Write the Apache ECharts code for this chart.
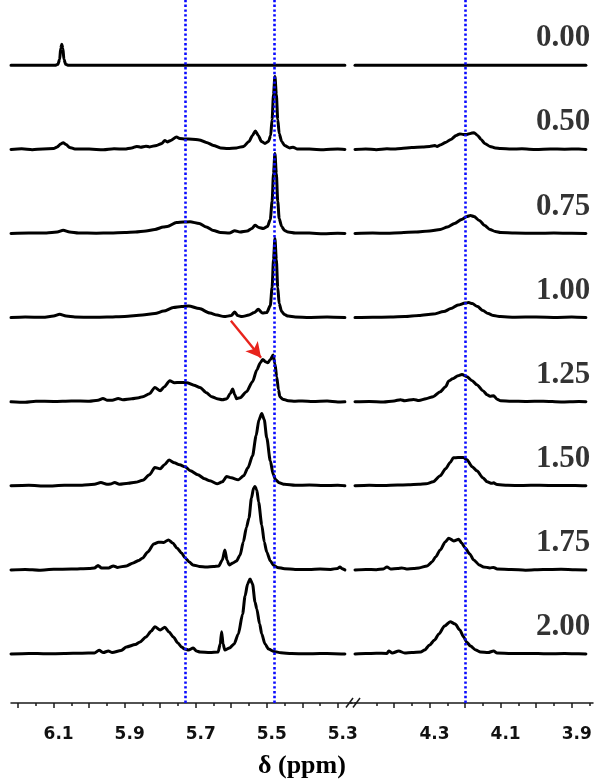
<!DOCTYPE html>
<html>
<head>
<meta charset="utf-8">
<script src="https://cdn.jsdelivr.net/npm/echarts@6/dist/echarts.min.js"></script>
<style>
  html, body { margin: 0; padding: 0; background: #fff; }
  #nmr { width: 595px; height: 781px; }
</style>
</head>
<body>
<div id="nmr"></div>
<script>
// ratio labels, top to bottom
const rowLabels = ['0.00', '0.50', '0.75', '1.00', '1.25', '1.50', '1.75', '2.00'];

// axis segments (ppm) and tick values
const leftRange = [5.26, 6.22];
const rightRange = [3.84, 4.51];
const leftMajor = [6.2, 6.1, 6.0, 5.9, 5.8, 5.7, 5.6, 5.5, 5.4, 5.3];
const leftMinor = [6.15, 6.05, 5.95, 5.85, 5.75, 5.65, 5.55, 5.45, 5.35];
const leftLabels = [6.1, 5.9, 5.7, 5.5, 5.3];
const rightMajor = [4.4, 4.3, 4.2, 4.1, 4.0, 3.9];
const rightMinor = [4.45, 4.35, 4.25, 4.15, 4.05, 3.95, 3.85];
const rightLabels = [4.3, 4.1, 3.9];

// dotted guide lines (ppm)
const guidesLeft = [5.726, 5.484];
const guidesRight = [4.20];

// spectra: [ppm, intensity]
const l000 = [[6.22, 0], [6.15, 0], [6.096, 0], [6.088, 1], [6.083, 6], [6.080, 17], [6.077, 21], [6.074, 17], [6.071, 6], [6.066, 1], [6.058, 0], [5.28, 0]];
const r000 = [[4.51, 0], [3.86, 0]];

const l050 = [[6.22, 0], [6.19, 0.6], [6.16, -0.3], [6.13, 0.5], [6.10, 0.8], [6.09, 2.5], [6.08, 5.5], [6.073, 6.7], [6.065, 5], [6.055, 2], [6.04, 0.5], [6.0, 0.3], [5.96, -0.4], [5.93, 0.6], [5.90, 0.3], [5.88, 1.5], [5.866, 3], [5.855, 2.2], [5.84, 3.2], [5.83, 2.5], [5.81, 4], [5.795, 6], [5.787, 9], [5.78, 7.5], [5.77, 9], [5.754, 12.5], [5.745, 11], [5.73, 10.5], [5.71, 10.2], [5.69, 9.5], [5.67, 7], [5.65, 4], [5.63, 1.5], [5.61, 0.8], [5.585, 1.5], [5.565, 3], [5.55, 8], [5.54, 14], [5.532, 18.4], [5.524, 14], [5.515, 8], [5.505, 6], [5.495, 8], [5.489, 14], [5.485, 30], [5.481, 55], [5.477, 73], [5.473, 55], [5.469, 30], [5.465, 16], [5.458, 8], [5.45, 4], [5.435, 1.5], [5.426, 2.2], [5.415, 0.5], [5.38, 0.3], [5.34, -0.3], [5.30, 0.4], [5.28, 0]];
const r050 = [[4.51, 0], [4.48, 0.5], [4.45, -0.3], [4.42, 0.6], [4.40, 0.4], [4.38, 1], [4.35, 1.8], [4.32, 2.5], [4.30, 3], [4.285, 3.8], [4.279, 3], [4.27, 4.5], [4.255, 7], [4.24, 10], [4.225, 14], [4.215, 15.5], [4.205, 15], [4.195, 15], [4.185, 16], [4.175, 16.7], [4.165, 14], [4.155, 10], [4.145, 6], [4.13, 3], [4.115, 1.5], [4.10, 0.8], [4.07, 0.3], [4.04, 0.6], [4.0, -0.2], [3.96, 0.4], [3.92, 0.2], [3.88, 0.5], [3.86, 0]];

const l075 = [[6.22, 0], [6.17, 0.4], [6.12, 0.6], [6.09, 1.5], [6.073, 3.3], [6.055, 1.5], [6.03, 0.5], [5.98, 0.3], [5.94, 0.5], [5.90, 1], [5.87, 1.5], [5.84, 2.5], [5.815, 4], [5.791, 6.5], [5.78, 7], [5.754, 11], [5.735, 11.5], [5.716, 11.7], [5.69, 10], [5.67, 6.5], [5.65, 3], [5.63, 1], [5.605, 0.5], [5.59, 2.7], [5.575, 1.5], [5.555, 2.5], [5.542, 5], [5.533, 8.3], [5.522, 6], [5.51, 5], [5.498, 7], [5.49, 14], [5.485, 32], [5.481, 60], [5.477, 80], [5.473, 60], [5.469, 32], [5.465, 15], [5.458, 7], [5.45, 3], [5.44, 1.5], [5.42, 0.5], [5.38, 0.4], [5.34, -0.3], [5.30, 0.3], [5.28, 0]];
const r075 = [[4.51, 0], [4.46, 0.4], [4.42, 0.2], [4.38, 0.8], [4.34, 1.5], [4.30, 2.5], [4.27, 4], [4.25, 6.5], [4.23, 10], [4.21, 14], [4.195, 17], [4.185, 18], [4.175, 17], [4.16, 13], [4.145, 8], [4.13, 4], [4.115, 2], [4.10, 1], [4.06, 0.4], [4.0, 0.2], [3.95, 0.5], [3.90, 0.2], [3.86, 0]];

const l100 = [[6.22, 0], [6.18, 0.5], [6.13, 0.4], [6.10, 1.5], [6.083, 3.3], [6.065, 1.5], [6.04, 0.6], [5.99, 0.3], [5.95, 0.6], [5.90, 1.2], [5.85, 2.5], [5.815, 4], [5.79, 6.5], [5.763, 10], [5.74, 11], [5.72, 11.7], [5.69, 9], [5.66, 4.5], [5.64, 2.5], [5.62, 1], [5.60, 2], [5.59, 5.7], [5.582, 2], [5.57, 1], [5.55, 2.5], [5.535, 5], [5.524, 8.3], [5.512, 4.5], [5.50, 5], [5.49, 12], [5.485, 30], [5.481, 58], [5.477, 79], [5.473, 58], [5.469, 30], [5.465, 14], [5.458, 6], [5.45, 3], [5.44, 1.5], [5.42, 0.6], [5.38, 0.2], [5.33, 0.5], [5.28, 0]];
const r100 = [[4.51, 0], [4.46, 0.3], [4.41, 0.6], [4.37, 1], [4.33, 2], [4.29, 3.5], [4.26, 6], [4.24, 9], [4.22, 12.5], [4.20, 14.5], [4.19, 15], [4.18, 14], [4.165, 11], [4.15, 7], [4.135, 4], [4.12, 2], [4.10, 1], [4.06, 0.4], [4.0, 0.6], [3.94, 0.2], [3.90, 0.5], [3.86, 0]];

const l125 = [[6.22, 0], [6.18, -0.5], [6.15, 0.5], [6.10, 0.3], [6.05, 0.8], [6.0, 0.5], [5.975, 1.5], [5.961, 3.3], [5.95, 1.5], [5.935, 1.5], [5.918, 3.3], [5.905, 2], [5.88, 3], [5.86, 4], [5.849, 5], [5.83, 8], [5.815, 14.3], [5.80, 11], [5.788, 15], [5.773, 21], [5.76, 19], [5.745, 19.3], [5.725, 19], [5.705, 16.5], [5.688, 14.3], [5.67, 9], [5.655, 5], [5.64, 3], [5.625, 2], [5.612, 3], [5.603, 8], [5.596, 12.7], [5.59, 7], [5.585, 3], [5.575, 4], [5.557, 10], [5.54, 20], [5.528, 31.7], [5.518, 39], [5.511, 42.3], [5.504, 40], [5.497, 39], [5.49, 42], [5.482, 46.7], [5.477, 38], [5.472, 25], [5.467, 12], [5.463, 5], [5.455, 2.5], [5.44, 1], [5.42, 0.5], [5.40, 0.8], [5.37, 0.2], [5.33, 0.6], [5.30, -0.2], [5.28, 0]];
const r125 = [[4.51, 0], [4.47, 0.3], [4.43, -0.2], [4.40, 0.8], [4.382, 2], [4.37, 1], [4.345, 2.3], [4.33, 1.2], [4.31, 3], [4.29, 5], [4.27, 10], [4.255, 15], [4.246, 20.7], [4.235, 23], [4.22, 26], [4.209, 27.3], [4.195, 25], [4.18, 21], [4.167, 17], [4.15, 11], [4.138, 7], [4.13, 5.5], [4.12, 6], [4.11, 2.5], [4.10, 1], [4.07, 0.5], [4.03, 0.2], [3.98, 0.5], [3.93, -0.2], [3.88, 0.3], [3.86, 0]];

const l150 = [[6.22, 0], [6.17, 0.5], [6.12, -0.3], [6.07, 0.5], [6.02, 0.6], [5.985, 1.5], [5.967, 3.3], [5.95, 1.5], [5.94, 1.8], [5.928, 3.3], [5.915, 1.5], [5.89, 2.5], [5.87, 3.5], [5.849, 5.5], [5.83, 11], [5.815, 18.3], [5.80, 17], [5.788, 21], [5.775, 25.7], [5.76, 23], [5.745, 21], [5.73, 19], [5.715, 15], [5.694, 11], [5.675, 7], [5.66, 5], [5.64, 2], [5.625, 4], [5.613, 9.3], [5.60, 8], [5.58, 6], [5.565, 10], [5.553, 18], [5.54, 30], [5.53, 50], [5.522, 66], [5.514, 72.3], [5.507, 66], [5.5, 48], [5.49, 25], [5.482, 11.7], [5.475, 6], [5.465, 3], [5.45, 1.5], [5.42, 0.5], [5.38, 0.8], [5.34, 0.2], [5.30, 0.5], [5.28, 0]];
const r150 = [[4.51, 0], [4.47, 0.5], [4.43, 0.2], [4.39, 0.8], [4.36, 1], [4.33, 1.5], [4.31, 2], [4.29, 4], [4.27, 10], [4.255, 17], [4.242, 23.3], [4.233, 28], [4.22, 28.3], [4.205, 28.3], [4.195, 26], [4.18, 19], [4.167, 15], [4.15, 8], [4.138, 4], [4.125, 2.5], [4.12, 3], [4.11, 1.2], [4.08, 0.5], [4.04, 0.3], [3.99, 0.6], [3.94, 0.2], [3.89, 0.4], [3.86, 0]];

const l175 = [[6.22, 0], [6.18, 0.5], [6.14, -0.3], [6.10, 0.6], [6.05, 0.8], [6.0, 1.5], [5.985, 2], [5.975, 4.3], [5.965, 2], [5.945, 2], [5.932, 4], [5.92, 2.5], [5.895, 4], [5.876, 7], [5.86, 9.5], [5.849, 12], [5.835, 18], [5.818, 26], [5.805, 27.7], [5.79, 27.5], [5.777, 30], [5.765, 27], [5.753, 22], [5.74, 17], [5.73, 12], [5.718, 8], [5.708, 5], [5.69, 3.5], [5.67, 3], [5.65, 3.5], [5.635, 4], [5.625, 10], [5.618, 20], [5.612, 10], [5.606, 5], [5.595, 7], [5.585, 9], [5.575, 15], [5.566, 28], [5.557, 42.7], [5.55, 52], [5.543, 72], [5.537, 82], [5.533, 83.3], [5.528, 80], [5.523, 68], [5.514, 45], [5.507, 28], [5.5, 18], [5.49, 9], [5.48, 4.5], [5.47, 2.5], [5.45, 1.2], [5.42, 0.5], [5.38, 0.3], [5.35, 0.8], [5.32, 0.5], [5.30, 1.5], [5.294, 3], [5.288, 1.2], [5.28, 0]];
const r175 = [[4.51, 0], [4.48, 0.5], [4.45, 0.2], [4.43, 1], [4.42, 3], [4.41, 1], [4.39, 1.5], [4.378, 2], [4.365, 1], [4.345, 1.5], [4.33, 2], [4.307, 4], [4.293, 8], [4.283, 13], [4.27, 20], [4.256, 28], [4.246, 31.7], [4.232, 29], [4.218, 30.7], [4.21, 27], [4.2, 22], [4.187, 16], [4.176, 10], [4.16, 5], [4.148, 3], [4.13, 2], [4.12, 2.5], [4.11, 1], [4.07, 0.4], [4.03, -0.3], [3.98, 0.4], [3.93, 0.6], [3.89, 0.2], [3.86, 0]];

const l200 = [[6.22, 0], [6.17, 0.6], [6.12, 0.2], [6.07, 0.5], [6.02, 0.8], [5.985, 1], [5.972, 3.7], [5.96, 1.5], [5.946, 3], [5.935, 1.5], [5.91, 3.5], [5.895, 7], [5.87, 9.5], [5.857, 12], [5.84, 17], [5.825, 23], [5.815, 27.3], [5.8, 24], [5.787, 26.7], [5.775, 22], [5.763, 17], [5.75, 11], [5.74, 7], [5.731, 5], [5.72, 4], [5.707, 6], [5.698, 3], [5.688, 2], [5.66, 1.5], [5.637, 2], [5.631, 10], [5.627, 22.3], [5.623, 10], [5.618, 4], [5.605, 6], [5.592, 10], [5.58, 20], [5.568, 40], [5.561, 58], [5.554, 70], [5.547, 75], [5.54, 70], [5.533, 52], [5.528, 45], [5.52, 30], [5.514, 20], [5.505, 10], [5.495, 5], [5.48, 2.5], [5.46, 1.2], [5.43, 0.5], [5.39, 0.2], [5.35, 0.5], [5.31, 0.3], [5.28, 0]];
const r200 = [[4.51, 0], [4.48, 0.4], [4.45, 0.8], [4.42, 0.5], [4.415, 3], [4.405, 1], [4.387, 3], [4.37, 1], [4.35, 1.5], [4.325, 2], [4.314, 4], [4.3, 9], [4.286, 14], [4.274, 20], [4.258, 28], [4.242, 32.3], [4.228, 30], [4.215, 24], [4.204, 17], [4.196, 12], [4.185, 8], [4.17, 4], [4.157, 2], [4.135, 1.5], [4.12, 3], [4.11, 1], [4.07, 0.4], [4.02, 0.6], [3.97, 0.2], [3.92, 0.5], [3.88, 0.2], [3.86, 0]];

const leftSpectra = [l000, l050, l075, l100, l125, l150, l175, l200];
const rightSpectra = [r000, r050, r075, r100, r125, r150, r175, r200];

// red arrow pointing to the new shoulder in the 1.25 trace: [ppm, height above that trace]
const arrowRow = 4;
const arrowFrom = [5.601, 81];
const arrowTo = [5.516, 44];

const rowStep = 84.1;   // vertical stacking step
const labelLift = 27;   // ratio label height above its trace
const offsetOf = (i) => (rowLabels.length - 1 - i) * rowStep;

const chart = echarts.init(document.getElementById('nmr'));

function majorAxis(gridIndex, range, ticks, labels) {
  return {
    type: 'value',
    gridIndex,
    position: 'bottom',
    inverse: true,
    min: range[0],
    max: range[1],
    axisLine: { show: true, onZero: false, lineStyle: { color: '#1a1a1a', width: 1.5 } },
    axisTick: { show: true, length: 5, customValues: ticks, lineStyle: { color: '#1a1a1a', width: 1.5 } },
    axisLabel: {
      show: true,
      customValues: labels,
      margin: 23,
      padding: [0, 0, 0, 10],
      color: '#111',
      fontFamily: 'DejaVu Sans',
      fontWeight: 'bold',
      fontSize: 17,
      formatter: (v) => v.toFixed(1),
    },
    splitLine: { show: false },
  };
}

function minorAxis(gridIndex, range, ticks) {
  return {
    type: 'value',
    gridIndex,
    position: 'bottom',
    inverse: true,
    min: range[0],
    max: range[1],
    axisLine: { show: false, onZero: false },
    axisTick: { show: true, length: 3, customValues: ticks, lineStyle: { color: '#1a1a1a', width: 1.5 } },
    axisLabel: { show: false },
    splitLine: { show: false },
  };
}

const traceStyle = { color: '#000', width: 3, cap: 'round', join: 'round' };

const series = [];
leftSpectra.forEach((spec, i) => {
  const s = {
    type: 'line',
    xAxisIndex: 0,
    yAxisIndex: 0,
    showSymbol: false,
    smooth: 0.25,
    smoothMonotone: 'x',
    lineStyle: traceStyle,
    data: spec.map((p) => [p[0], p[1] + offsetOf(i)]),
  };
  if (i === arrowRow) {
    s.markLine = {
      silent: true,
      z: 12,
      symbol: ['none', 'arrow'],
      symbolSize: [12, 15],
      label: { show: false },
      lineStyle: { color: '#e8231c', width: 2.4, type: 'solid' },
      data: [[
        { coord: [arrowFrom[0], arrowFrom[1] + offsetOf(i)] },
        { coord: [arrowTo[0], arrowTo[1] + offsetOf(i)] },
      ]],
    };
  }
  series.push(s);
});
rightSpectra.forEach((spec, i) => {
  series.push({
    type: 'line',
    xAxisIndex: 2,
    yAxisIndex: 1,
    showSymbol: false,
    smooth: 0.25,
    smoothMonotone: 'x',
    lineStyle: traceStyle,
    data: spec.map((p) => [p[0], p[1] + offsetOf(i)]),
  });
});

const guideLine = (vals) => ({
  silent: true,
  z: 10,
  symbol: 'none',
  label: { show: false },
  lineStyle: { color: '#0a0aff', width: 2.6, type: [2.4, 2.4] },
  data: vals.map((v) => ({ xAxis: v })),
});

series.push({
  type: 'line', xAxisIndex: 0, yAxisIndex: 0, z: 10, data: [], markLine: guideLine(guidesLeft),
});
series.push({
  type: 'line', xAxisIndex: 2, yAxisIndex: 1, z: 10, data: [], markLine: guideLine(guidesRight),
});

// ratio labels at the right edge
series.push({
  type: 'scatter',
  xAxisIndex: 2,
  yAxisIndex: 1,
  symbolSize: 0,
  silent: true,
  data: rowLabels.map((t, i) => ({ name: t, value: [3.845, offsetOf(i) + labelLift] })),
  label: {
    show: true,
    position: 'left',
    distance: 1,
    formatter: (p) => p.name,
    color: '#000',
    fontFamily: 'Liberation Serif',
    fontWeight: 'bold',
    fontSize: 31,
  },
});

const option = {
  animation: false,
  backgroundColor: '#fff',
  grid: [
    { left: 11, width: 341, top: 0, bottom: 78 },
    { left: 355, width: 238, top: 0, bottom: 78 },
  ],
  xAxis: [
    majorAxis(0, leftRange, leftMajor, leftLabels),
    minorAxis(0, leftRange, leftMinor),
    majorAxis(1, rightRange, rightMajor, rightLabels),
    minorAxis(1, rightRange, rightMinor),
  ],
  yAxis: [
    { type: 'value', gridIndex: 0, min: -49, max: 654, show: false },
    { type: 'value', gridIndex: 1, min: -49, max: 654, show: false },
  ],
  graphic: [
    // axis break mark
    { type: 'line', shape: { x1: 350, y1: 703, x2: 357, y2: 703 }, style: { stroke: '#1a1a1a', lineWidth: 1.5 } },
    { type: 'line', shape: { x1: 346, y1: 707.5, x2: 353, y2: 698 }, style: { stroke: '#1a1a1a', lineWidth: 1.5 } },
    { type: 'line', shape: { x1: 353, y1: 707.5, x2: 360, y2: 698 }, style: { stroke: '#1a1a1a', lineWidth: 1.5 } },
    {
      type: 'text',
      left: 258,
      top: 753,
      style: {
        text: 'δ (ppm)',
        fill: '#000',
        font: 'bold 26px "Liberation Serif"',
      },
    },
  ],
  series,
};

chart.setOption(option);
</script>
</body>
</html>
